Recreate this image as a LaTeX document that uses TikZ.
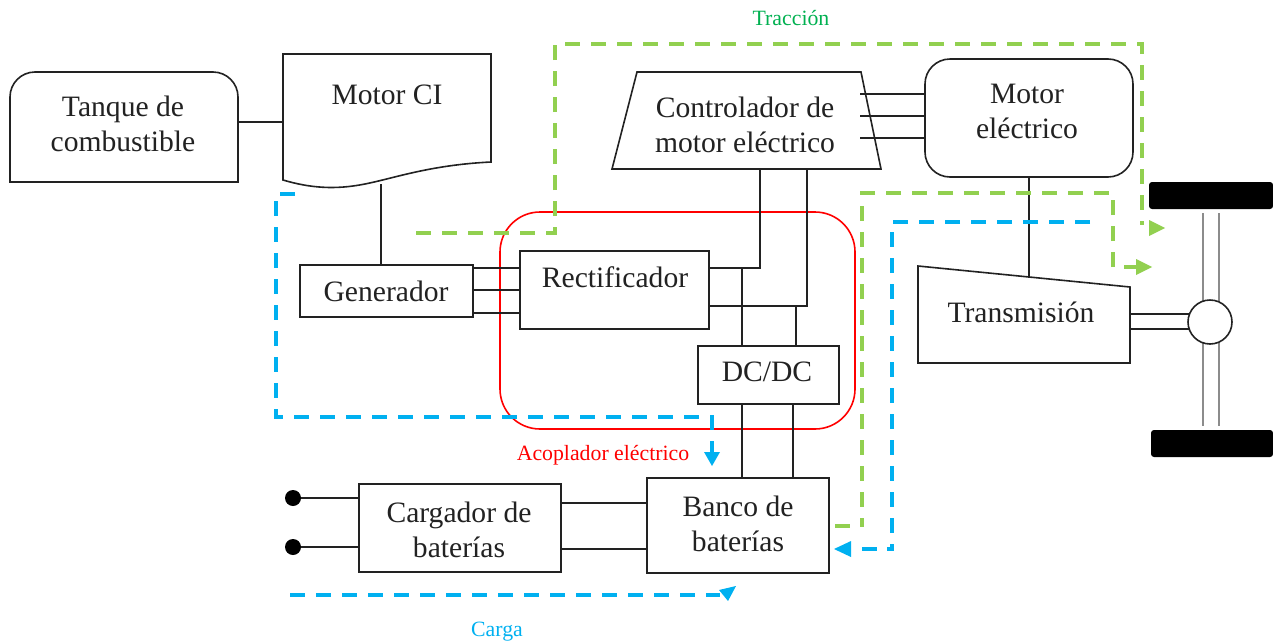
\documentclass[tikz,border=0pt]{standalone}
\usepackage{fontspec}
\setmainfont{Liberation Serif}
\usetikzlibrary{arrows.meta,calc}
\definecolor{tgreen}{HTML}{92D050}
\definecolor{tblue}{HTML}{00B0F0}
\definecolor{lgreen}{HTML}{00B050}
\definecolor{ink}{HTML}{222222}
\tikzset{
  x=1pt,y=-1pt,
  box/.style={draw=ink,line width=1.6pt,fill=white,inner sep=0pt,align=center,font=\fontsize{29.6}{35}\selectfont,text=ink},
  wire/.style={draw=ink,line width=1.6pt},
  axle/.style={draw=gray!90,line width=2.4pt},
  wheel/.style={fill=black,rounded corners=3pt,inner sep=0pt},
  flow/.style={line width=3.2pt,dash pattern=on 15pt off 11pt},
  gflow/.style={flow,draw=tgreen},
  bflow/.style={flow,draw=tblue},
  captxt/.style={inner sep=0pt,font=\fontsize{21.8}{25}\selectfont}
}
\begin{document}
\begin{tikzpicture}
\useasboundingbox (0,0) rectangle (1273,643);
% coupler
\node[draw=red,line width=1.6pt,rounded corners=40pt,minimum width=355pt,minimum height=217pt,inner sep=0pt] (coupler) at (677.5,320.5) {};
% invisible frames for drawn shapes
\node[inner sep=0pt,minimum width=228pt,minimum height=110pt] (tank) at (124,127) {};
\node[inner sep=0pt,minimum width=208pt,minimum height=134pt] (ice) at (387,121) {};
\node[inner sep=0pt,minimum width=269pt,minimum height=97pt] (ctrl) at (746.5,120.5) {};
\node[inner sep=0pt,minimum width=212pt,minimum height=97pt] (trans) at (1024,314.5) {};
\node[box,rounded corners=25pt,minimum width=208pt,minimum height=118pt] (emotor) at (1029,118) {};
\node[box,minimum width=173pt,minimum height=52pt] (gen) at (386.5,291) {};
\node[box,minimum width=189pt,minimum height=78pt] (rect) at (614.5,290) {};
\node[box,minimum width=141pt,minimum height=58pt] (dcdc) at (768.5,375) {};
\node[box,minimum width=182pt,minimum height=95pt] (bank) at (738,525.5) {};
\node[box,minimum width=202pt,minimum height=88pt] (charger) at (460,528) {};
\node[circle,fill=black,minimum size=16pt,inner sep=0pt] (d1) at (293,498) {};
\node[circle,fill=black,minimum size=16pt,inner sep=0pt] (d2) at (293,547) {};
\node[wheel,minimum width=124pt,minimum height=27pt] (w1) at (1211,195.5) {};
\node[wheel,minimum width=122pt,minimum height=27pt] (w2) at (1212,443.5) {};
% shapes
\draw[box] (10,182) -- (10,97) arc[start angle=180,end angle=270,radius=25] -- (213,72) arc[start angle=270,end angle=360,radius=25] -- (238,182) -- cycle;
\draw[box] (283,54) -- (491,54) -- (491,162) .. controls (430,165) and (395,178) .. (365,184) .. controls (335,190) and (310,188) .. (283,180) -- cycle;
\draw[box] (637,72) -- (861,72) -- (881,169) -- (612,169) -- cycle;
\draw[box] (918,266) -- (1130,287) -- (1130,363) -- (918,363) -- cycle;
% connectors
\foreach \xx in {1203,1219} {\draw[axle] (\xx,213) -- (\xx,302); \draw[axle] (\xx,342) -- (\xx,426);}
\node[circle,draw=ink,line width=1.6pt,fill=white,minimum size=44pt,inner sep=0pt] (hub) at (1210,322) {};
\draw[wire] (238,122) -- (ice.west |- 0,122);
\draw[wire] (381,184) -- (gen.north -| 381,0);
\foreach \yy in {94,116,138} \draw[wire] (860,\yy) -- (emotor.west |- 0,\yy);
\draw[wire] (760,169) |- (rect.east |- 0,268);
\draw[wire] (807,169) |- (rect.east |- 0,306);
\foreach \yy in {268,290,313} \draw[wire] (gen.east |- 0,\yy) -- (rect.west |- 0,\yy);
\draw[wire] (742,268) -- (742,346);
\draw[wire] (796,306) -- (796,346);
\draw[wire] (742,404) -- (742,478);
\draw[wire] (793,404) -- (793,478);
\foreach \yy in {503,549} \draw[wire] (charger.east |- 0,\yy) -- (bank.west |- 0,\yy);
\draw[wire] (d1) -- (charger.west |- d1);
\draw[wire] (d2) -- (charger.west |- d2);
\draw[wire] (emotor.south -| 1029,0) -- (1029,278);
\foreach \yy in {314,329} \draw[wire] (1130,\yy) -- (1189,\yy);
% texts
\node[box,draw=none,fill=none] (t1) at (123,124) {Tanque de\\combustible};
\node[box,draw=none,fill=none] (t2) at (387,95) {Motor CI};
\node[box,draw=none,fill=none] (t3) at (745,125) {Controlador de\\motor eléctrico};
\node[box,draw=none,fill=none] (t4) at (1027,111) {Motor\\eléctrico};
\node[box,draw=none,fill=none] (t5) at (386,291) {Generador};
\node[box,draw=none,fill=none] (t6) at (615,277) {Rectificador};
\node[box,draw=none,fill=none] (t7) at (767,372) {DC/DC};
\node[box,draw=none,fill=none] (t8) at (1021,312) {Transmisión};
\node[box,draw=none,fill=none] (t9) at (738,524) {Banco de\\baterías};
\node[box,draw=none,fill=none] (t10) at (459,530) {Cargador de\\baterías};
\node[captxt,text=lgreen] (c1) at (791,18) {Tracción};
\node[captxt,text=tblue] (c2) at (497,632) {Carga};
\node[captxt,text=red] (c3) at (603,455) {Acoplador eléctrico};
% flows
\coordinate (g1s) at (416,233);
\draw[gflow] (g1s) -- (555,233) -- (555,44) -- (1142,44) -- (1142,225);
\fill[tgreen] (1149,220) -- (1165,228) -- (1149,236) -- cycle;
\coordinate (g2s) at (1113,267);
\draw[gflow] (g2s) -- (1113,193) -- (862,193) -- (862,527);
\draw[line width=3.2pt,tgreen] (835,526) -- (850,526);
\fill[tgreen] (1136,259) -- (1152,267) -- (1136,275) -- cycle;
\draw[line width=3.2pt,tgreen] (1124,267) -- (1138,267);
\coordinate (b1s) at (295,194);
\draw[bflow] (b1s) -- (276,194) -- (276,417) -- (712,417) -- (712,430);
\draw[line width=3.2pt,tblue] (712,441) -- (712,454);
\fill[tblue] (704,452) -- (720,452) -- (712,466) -- cycle;
\coordinate (b2s) at (1090,222);
\draw[bflow] (b2s) -- (892,222) -- (892,549);
\draw[line width=3.2pt,tblue] (862,549) -- (877,549);
\draw[line width=3.2pt,tblue] (887,549) -- (893.6,549);
\fill[tblue] (851,541) -- (851,557) -- (834,549) -- cycle;
\coordinate (b3s) at (290,595);
\draw[bflow] (b3s) -- (720,595);
\fill[tblue] (719,590) -- (736,586) -- (728,601) -- cycle;
\end{tikzpicture}
\end{document}
